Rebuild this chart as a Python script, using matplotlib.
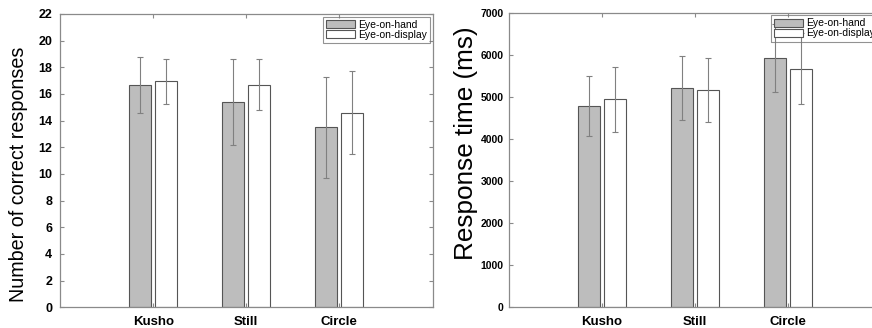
import matplotlib
matplotlib.use("Agg")
import matplotlib.pyplot as plt
import numpy as np
from matplotlib.patches import Patch

plt.rcParams['font.family'] = ['Liberation Sans', 'DejaVu Sans']

categories = ["Kusho", "Still", "Circle"]
series = ["Eye-on-hand", "Eye-on-display"]

correct_hand = [16.7, 15.4, 13.5]
correct_hand_err = [2.1, 3.2, 3.8]
correct_disp = [16.95, 16.7, 14.6]
correct_disp_err = [1.7, 1.9, 3.1]

rt_hand = [4780, 5210, 5920]
rt_hand_err = [710, 756, 816]
rt_disp = [4940, 5160, 5670]
rt_disp_err = [770, 757, 845]

left_yticks = [0, 2, 4, 6, 8, 10, 12, 14, 16, 18, 20, 22]
right_yticks = [0, 1000, 2000, 3000, 4000, 5000, 6000, 7000]

fig = plt.figure(figsize=(8.72, 3.28), dpi=100)
ax1 = fig.add_axes([60/872, 1-307.3/328, 372.5/872, (307.3-14)/328])
ax2 = fig.add_axes([508.7/872, 1-307.3/328, 372/872, (307.3-12.7)/328])

gray = "#bdbdbd"
edge = "#555555"
ecol = "#808080"
spine_col = "#8a8a8a"
x = np.arange(1, len(categories) + 1)
w = 0.235
off = 0.14

def draw(ax, a, ae, b, be, ylim, yticks, ylabel, lab_fs, tick_fs, ypad):
    ax.bar(x - off, a, w, color=gray, edgecolor=edge, linewidth=0.8, label=series[0], zorder=2)
    ax.bar(x + off, b, w, color="white", edgecolor=edge, linewidth=0.8, label=series[1], zorder=2)
    ax.errorbar(x - off, a, yerr=ae, fmt="none", ecolor=ecol, elinewidth=0.8, capsize=2, capthick=0.8, zorder=3)
    ax.errorbar(x + off, b, yerr=be, fmt="none", ecolor=ecol, elinewidth=0.8, capsize=2, capthick=0.8, zorder=3)
    ax.set_xlim(0, 4)
    ax.set_ylim(*ylim)
    ax.set_yticks(yticks)
    ax.set_xticks(x)
    ax.set_xticklabels(categories, fontsize=9.5, fontweight="bold")
    ax.tick_params(axis="both", direction="in", length=3, color=spine_col,
                   top=True, right=True, width=0.8)
    ax.tick_params(axis="y", labelsize=tick_fs, pad=ypad)
    ax.tick_params(axis="x", pad=6)
    for lbl in ax.get_yticklabels():
        lbl.set_fontweight("bold")
    for s in ax.spines.values():
        s.set_color(spine_col)
        s.set_linewidth(0.9)
    ax.set_ylabel(ylabel, fontsize=lab_fs)
    handles = [Patch(facecolor=gray, edgecolor=edge, linewidth=0.8),
               Patch(facecolor="white", edgecolor=edge, linewidth=0.8)]
    leg = ax.legend(handles, series, loc="upper right", fontsize=7.5, frameon=True,
                    fancybox=False, handlelength=2.8, handleheight=0.75, handletextpad=0.25,
                    labelspacing=0.0, borderpad=0.3, borderaxespad=0.25,
                    facecolor="none", edgecolor="#777777")
    leg.get_frame().set_linewidth(0.8)

draw(ax1, correct_hand, correct_hand_err, correct_disp, correct_disp_err,
     (0, 22), left_yticks, "Number of correct responses", 14.2, 9, 5.5)
draw(ax2, rt_hand, rt_hand_err, rt_disp, rt_disp_err,
     (0, 7000), right_yticks, "Response time (ms)", 18.8, 7.5, 3.5)

ax1.yaxis.set_label_coords(-0.086, 0.453)
ax2.yaxis.set_label_coords(-0.0825, 0.556)

fig.savefig("out.png", dpi=100)
